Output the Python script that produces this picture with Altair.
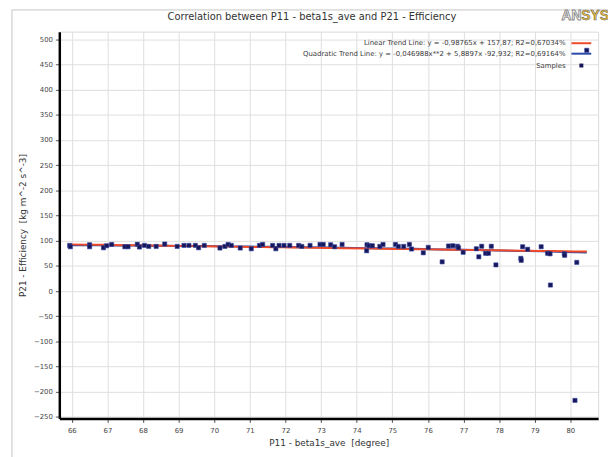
import altair as alt
import pandas as pd

# ---- data ----
beta = [65.94, 65.96, 66.5, 66.5, 66.89, 66.98, 67.12, 67.49, 67.58, 67.84, 67.9,
        68.04, 68.16, 68.37, 68.61, 68.96, 69.15, 69.29, 69.47, 69.56, 69.72, 70.16,
        70.3, 70.39, 70.48, 70.73, 71.04, 71.27, 71.36, 71.64, 71.73, 71.82, 71.96,
        72.12, 72.37, 72.46, 72.69, 72.97, 73.06, 73.27, 73.38, 73.59, 74.29, 74.28,
        74.35, 74.44, 74.65, 74.74, 75.09, 75.17, 75.32, 75.48, 75.54, 75.87, 76.01,
        76.4, 76.58, 76.7, 76.83, 76.86, 76.99, 77.36, 77.43, 77.51, 77.62, 77.7,
        77.78, 77.91, 78.61, 78.62, 78.66, 78.8, 79.18, 79.36, 79.43, 79.44, 79.83,
        79.84, 80.18, 80.13, 80.46]
eff = [90.7, 88, 92, 88, 86, 90, 92.6, 88, 88, 93, 87.5,
       90.7, 88.7, 88.7, 93.4, 88.7, 90.7, 90.7, 90.7, 86, 90.7, 85.5,
       88.7, 92.6, 90.7, 85.5, 84, 90.7, 92.6, 90.7, 84, 90.7, 90.7,
       90.7, 90.7, 88.7, 90.7, 92.6, 92.6, 92, 88, 92.6, 92, 80,
       90, 90, 88.7, 92.6, 92.6, 88.7, 88.7, 92.6, 83.5, 76, 86.8,
       58, 89.5, 90, 89, 86, 77, 84, 68, 89, 75, 75,
       89, 52, 65, 61, 88, 83, 88, 75, 74, 12, 74,
       71, 57, -217, 478]
lin_coef = [-0.98765, 157.87]
quad_coef = [-0.046988, 5.8897, -92.932]
legend_labels = [
    "Linear Trend Line: y = -0,98765x + 157,87; R2=0,67034%",
    "Quadratic Trend Line: y = -0,046988x**2 + 5,8897x -92,932; R2=0,69164%",
    "Samples",
]
x_ticks = list(range(66, 81))
y_ticks = list(range(-250, 501, 50))
title_text = "Correlation between P11 - beta1s_ave and P21 - Efficiency"
x_title = "P11 - beta1s_ave \u00a0[degree]"
y_title = "P21 - Efficiency \u00a0[kg m^-2 s^-3]"

FONT = "DejaVu Sans"
RED = "#f04a28"
BLUE = "#2a48a8"
NAVY = "#16165a"

df = pd.DataFrame({"x": beta, "y": eff})

X = alt.X("x:Q", scale=alt.Scale(domain=[65.65, 80.78], nice=False, zero=False),
          axis=alt.Axis(values=x_ticks, title=x_title, format="d"))
Yax = alt.Axis(values=y_ticks, title=y_title, format="d")
Ysc = alt.Scale(domain=[-253, 515], nice=False, zero=False)

base = alt.Chart(df)

quad = base.transform_calculate(
    yq=f"{quad_coef[0]}*datum.x*datum.x + {quad_coef[1]}*datum.x + {quad_coef[2]}"
).mark_line(color=BLUE, strokeWidth=2).encode(
    x=X, y=alt.Y("yq:Q", scale=Ysc, axis=Yax))

lin = base.transform_calculate(
    yl=f"{lin_coef[0]}*datum.x + {lin_coef[1]}"
).mark_line(color=RED, strokeWidth=2).encode(
    x=X, y=alt.Y("yl:Q", scale=Ysc, axis=Yax))

pts = base.mark_square(size=18, color=NAVY, opacity=1, stroke="#3848a0",
                       strokeWidth=0.6).encode(
    x=X, y=alt.Y("y:Q", scale=Ysc, axis=Yax))

one = alt.Data(values=[{"k": 0}])

frame = alt.Chart(one).mark_rect(fill=None, stroke="#c4c4c4", strokeWidth=1).encode(
    x=alt.value(-48), x2=alt.value(700), y=alt.value(-22), y2=alt.value(700))

title = alt.Chart(one).mark_text(font=FONT, fontSize=10, color="#333333",
                                 align="center", baseline="middle").encode(
    x=alt.value(256), y=alt.value(-14.5), text=alt.value(title_text))

logo_an = alt.Chart(one).mark_text(font="Liberation Sans", fontSize=14, fontWeight="bold",
                                   fill="#ffffff", stroke="#8a8a8a", strokeWidth=0.9,
                                   align="left", baseline="middle").encode(
    x=alt.value(509), y=alt.value(-16), text=alt.value("AN"))
logo_sys = alt.Chart(one).mark_text(font="Liberation Sans", fontSize=14, fontWeight="bold",
                                    fill="#f2c230", stroke="#6a6a6a", strokeWidth=0.6,
                                    align="left", baseline="middle").encode(
    x=alt.value(529), y=alt.value(-16), text=alt.value("SYS"))

leg_y = [11.7, 22.3, 34.3]
leg_text = alt.Chart(alt.Data(values=[{"t": t, "yy": yy} for t, yy in zip(legend_labels, leg_y)])).mark_text(
    font=FONT, fontSize=7, color="#3a3a3a", align="right", baseline="middle").encode(
    x=alt.value(513), y=alt.Y("yy:Q", scale=None), text="t:N")

sw_red = alt.Chart(one).mark_rule(color=RED, strokeWidth=2).encode(
    x=alt.value(519), x2=alt.value(539), y=alt.value(leg_y[0]))
sw_blue = alt.Chart(one).mark_rule(color=BLUE, strokeWidth=2).encode(
    x=alt.value(519), x2=alt.value(539), y=alt.value(leg_y[1]))
sw_pt = alt.Chart(one).mark_square(size=16, color=NAVY, opacity=1).encode(
    x=alt.value(529), y=alt.value(leg_y[2]))

chart = alt.layer(frame, quad, lin, pts, title, logo_an, logo_sys,
                  leg_text, sw_red, sw_blue, sw_pt).properties(
    width=546, height=392,
    padding={"left": 52, "top": 21, "right": 10, "bottom": 36},
    autosize="none",
).configure_view(stroke="#dadada", strokeWidth=1).configure_axis(
    domainColor="#000000", domainWidth=2.5, grid=True, gridColor="#dedede",
    gridWidth=1, tickColor="#555555", tickSize=4, labelFont=FONT, labelFontSize=7,
    labelColor="#444444", titleFont=FONT, titleFontSize=9, titleFontWeight="normal",
    titleColor="#333333", labelPadding=3,
).configure_axisX(titlePadding=5, labelPadding=4).configure_axisY(titlePadding=6)

chart.save("out.html", embed_options={"renderer": "svg", "actions": False})
